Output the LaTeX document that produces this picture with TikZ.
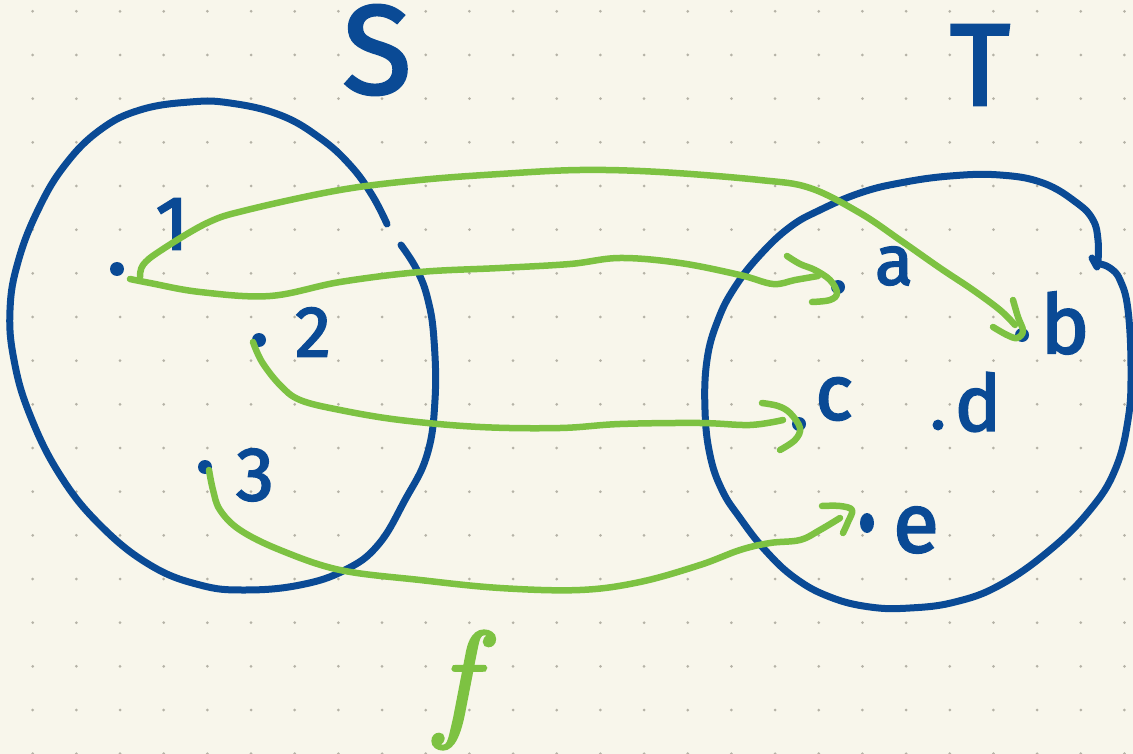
\documentclass[tikz,border=0pt]{standalone}
\usepackage{fontspec}
\newfontfamily\hand{Fira Sans}[FakeBold=2.4]
\newfontfamily\fserif{Latin Modern Roman}[FakeBold=2.5]
\usetikzlibrary{shapes.geometric}
\definecolor{bg}{HTML}{F8F6EB}
\definecolor{ink}{HTML}{0A4A95}
\definecolor{grn}{HTML}{7DC242}
\definecolor{griddot}{HTML}{B5B2A6}
\begin{document}
\begin{tikzpicture}[x=1pt,y=-1pt,
  blueline/.style={draw=ink,line width=7pt,line cap=round,line join=round},
  greenline/.style={draw=grn,line width=6.5pt,line cap=round,line join=round},
  elemdot/.style={circle,fill=ink,inner sep=0pt,minimum size=14pt},
  lab/.style={text=ink,inner sep=0pt,font=\hand},
  fsz/.style={font=\hand\fontsize{#1}{#1}\selectfont}]
\fill[bg] (0,0) rectangle (1133,754);
\useasboundingbox (0,0) rectangle (1133,754);
\foreach \i in {0,...,25} \foreach \j in {0,...,17}
  \fill[griddot] ({32.7+43.67*\i},{11.3+43.67*\j}) circle (1.5pt);

% set S
\draw[blueline] plot[smooth,tension=0.7] coordinates {(387,224) (372,195) (350,165) (320,138) (280,115) (230,103) (190,102) (140,110) (100,130) (65,165) (38,210) (18,262) (10,310) (14,360) (30,415) (60,475) (100,525) (150,565) (200,585) (245,590) (300,585) (345,570) (378,545) (405,500) (427,455) (435,400) (434,340) (428,300) (417,270) (401,245)};
% set T
\draw[blueline] plot[smooth,tension=0.7] coordinates {(1098,262) (1098,240) (1093,220) (1077,203) (1043,183) (1000,175) (950,176) (900,183) (860,193) (820,210) (790,227) (760,255) (735,287) (718,320) (707,360) (705,410) (710,455) (722,490) (740,518) (765,550) (795,578) (830,597) (870,607) (910,608) (955,602) (1000,585) (1050,550) (1090,510) (1115,470) (1128,420) (1131,370) (1128,310) (1120,280) (1110,268) (1100,264)};
\draw[blueline] (1092,258) -- (1097,267);

% labels
\node[lab,fsz=126] (lS) at (377,50) {S};
\node[lab,fsz=116] (lT) at (980,65) {T};
\node[lab,fsz=76] (l1) at (172,224) {1};
\node[lab,fsz=72] (l2) at (313,332) {2};
\node[lab,fsz=76] (l3) at (255,475) {3};
\node[lab,fsz=70] (la) at (894,266) {a};
\node[lab,fsz=82] (lb) at (1065,323) {b};
\node[lab,fsz=78] (lc) at (834,399) {c};
\node[lab,fsz=78] (ld) at (978,402) {d};
\node[lab,fsz=84] (le) at (916,530) {e};
\node[text=grn,inner sep=0pt,font=\fserif\fontsize{130}{130}\selectfont\itshape] (lf) at (456,690) {f};

% element dots
\node[elemdot] (p1) at (117,269) {};
\node[elemdot] (p2) at (259,340) {};
\node[elemdot] (p3) at (205,467) {};
\node[elemdot] (pa) at (838,287) {};
\node[elemdot] (pb) at (1022,335) {};
\node[elemdot] (pc) at (799,424) {};
\node[elemdot,minimum size=11pt] (pd) at (938,425) {};
\node[ellipse,fill=ink,inner sep=0pt,minimum width=14pt,minimum height=20pt] (pe) at (867,523) {};

% connector end points
\coordinate (s1a) at (130,279);
\coordinate (s1b) at (140,277);
\coordinate (s2) at (253,342);
\coordinate (s3) at (209,470);
\coordinate (ea) at (818,276);
\coordinate (eb) at (1015,325);
\coordinate (ec) at (783,420);
\coordinate (ee) at (840,518);

% f : 1 -> a
\draw[greenline] plot[smooth,tension=0.6] coordinates {(s1a) (150,283) (200,292) (270,296) (340,282) (420,272) (500,268) (570,264) (620,258) (680,263) (740,275) (773,284) (795,280) (ea)};
\draw[greenline] plot[smooth,tension=0.6] coordinates {(787,256) (800,264) (815,270) (830,280) (837,293) (830,300) (812,302)};
% f : 1 -> b
\draw[greenline] plot[smooth,tension=0.6] coordinates {(s1b) (143,265) (160,251) (207,223) (247,210) (340,190) (420,180) (500,174) (580,170) (660,172) (760,180) (810,188) (860,213) (900,240) (940,268) (973,290) (1000,310) (eb)};
\draw[greenline] plot[smooth,tension=0.6] coordinates {(1013,300) (1018,317) (1023,331) (1017,338) (1007,335) (993,327)};
% f : 2 -> c
\draw[greenline] plot[smooth,tension=0.6] coordinates {(s2) (262,362) (280,385) (300,400) (340,410) (400,420) (480,427) (560,428) (620,424) (700,423) (750,425) (ec)};
\draw[greenline] plot[smooth,tension=0.6] coordinates {(762,403) (778,406) (790,413) (800,428) (795,440) (780,450)};
% f : 3 -> e
\draw[greenline] plot[smooth,tension=0.6] coordinates {(s3) (213,490) (220,510) (240,530) (280,550) (340,570) (420,580) (500,588) (580,590) (640,582) (700,565) (740,550) (770,543) (800,540) (820,530) (ee)};
\draw[greenline] plot[smooth,tension=0.6] coordinates {(822,506) (840,506) (852,510) (848,522) (843,533)};
\end{tikzpicture}
\end{document}
